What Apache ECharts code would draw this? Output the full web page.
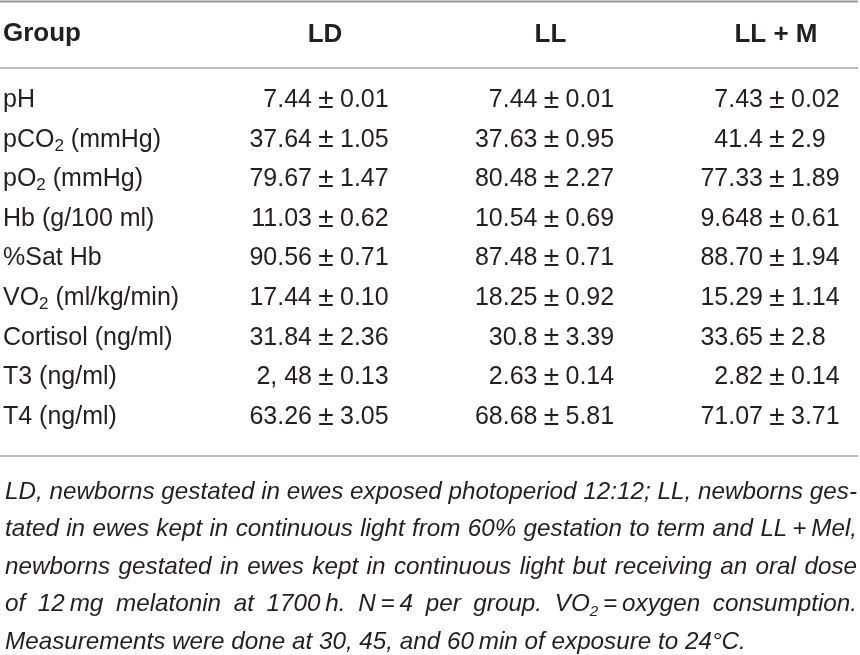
<!DOCTYPE html>
<html lang="en">
<head>
    <meta charset="UTF-8">
    <title>Blood gases and hormones by group</title>
    <script src="https://cdn.jsdelivr.net/npm/echarts@6.0.0/dist/echarts.min.js"></script>
    <style>
        body { margin: 0; padding: 0; background: #fff; }
        #table { width: 860px; height: 655px; }
    </style>
</head>
<body>
    <div id="table"></div>
    <script>
        // table content
        const groups = ['LD', 'LL', 'LL + M'];
        const rowLabels = ['pH', 'pCO{sub|2} (mmHg)', 'pO{sub|2} (mmHg)', 'Hb (g/100 ml)', '%Sat Hb',
            'VO{sub|2} (ml/kg/min)', 'Cortisol (ng/ml)', 'T3 (ng/ml)', 'T4 (ng/ml)'];
        const ldMean = ['7.44', '37.64', '79.67', '11.03', '90.56', '17.44', '31.84', '2, 48', '63.26'];
        const ldSd = ['0.01', '1.05', '1.47', '0.62', '0.71', '0.10', '2.36', '0.13', '3.05'];
        const llMean = ['7.44', '37.63', '80.48', '10.54', '87.48', '18.25', '30.8', '2.63', '68.68'];
        const llSd = ['0.01', '0.95', '2.27', '0.69', '0.71', '0.92', '3.39', '0.14', '5.81'];
        const llmMean = ['7.43', '41.4', '77.33', '9.648', '88.70', '15.29', '33.65', '2.82', '71.07'];
        const llmSd = ['0.02', '2.9', '1.89', '0.61', '1.94', '1.14', '2.8', '0.14', '3.71'];
        const footnote = [
            'LD, newborns gestated in ewes exposed photoperiod 12:12; LL, newborns ges-',
            'tated in ewes kept in continuous light from 60% gestation to term and LL\u2009+\u2009Mel,',
            'newborns gestated in ewes kept in continuous light but receiving an oral dose',
            'of 12\u2009mg melatonin at 1700\u2009h. N\u2009=\u20094 per group. VO{sub|2}\u2009=\u2009oxygen consumption.',
            'Measurements were done at 30, 45, and 60\u2009min of exposure to 24°C.'
        ];

        const means = [ldMean, llMean, llmMean];
        const sds = [ldSd, llSd, llmSd];

        const textColor = '#231f20';
        const bodyFont = 'Liberation Sans';
        const bodySize = 25;

        const cells = [];
        groups.forEach(function (g, gi) {
            rowLabels.forEach(function (r, ri) {
                cells.push([gi, ri]);
            });
        });

        function rule(y, color, w) {
            return {
                type: 'line',
                shape: { x1: 0, y1: y, x2: 858, y2: y },
                style: { stroke: color, lineWidth: w }
            };
        }

        // footnote: justified lines of italic text
        const fnSize = 24, fnSub = 15, fnScale = 1.01;
        const fnLeft = 5, fnWidth = 852, fnTop = 492, fnLead = 37.5;
        const ctx = document.createElement('canvas').getContext('2d');
        function wordWidth(w) {
            let total = 0;
            w.split(/(\{sub\|[^}]*\})/).forEach(function (part) {
                if (!part) return;
                const m = part.match(/^\{sub\|([^}]*)\}$/);
                ctx.font = 'italic ' + (m ? fnSub : fnSize) + 'px "Liberation Sans"';
                total += ctx.measureText(m ? m[1] : part).width;
            });
            return total;
        }
        ctx.font = 'italic ' + fnSize + 'px "Liberation Sans"';
        const spaceW = ctx.measureText(' ').width;
        const fnWords = [];
        footnote.forEach(function (line, li) {
            const words = line.split(' ');
            const widths = words.map(wordWidth);
            const sum = widths.reduce(function (a, b) { return a + b; }, 0);
            const last = li === footnote.length - 1;
            const gap = last ? spaceW : (fnWidth / fnScale - sum) / (words.length - 1);
            let x = 0;
            words.forEach(function (w, wi) {
                fnWords.push({
                    type: 'text',
                    x: x,
                    y: li * fnLead,
                    style: {
                        text: w,
                        fontFamily: bodyFont,
                        fontStyle: 'italic',
                        fontSize: fnSize,
                        fill: textColor,
                        verticalAlign: 'middle',
                        rich: {
                            sub: { fontFamily: bodyFont, fontStyle: 'italic', fontSize: fnSub, padding: [14, 0, 0, 0], fill: textColor }
                        }
                    }
                });
                x += widths[wi] + gap;
            });
        });

        const chart = echarts.init(document.getElementById('table'));

        chart.setOption({
            backgroundColor: '#fff',
            animation: false,
            title: {
                text: 'Group',
                left: 3,
                top: 19,
                padding: 0,
                textStyle: { fontFamily: bodyFont, fontSize: 26, fontWeight: 'bold', color: textColor, lineHeight: 30 }
            },
            grid: {
                left: 325,
                right: 84,
                top: 100,
                bottom: 238,
                containLabel: false,
                outerBoundsMode: 'none'
            },
            xAxis: {
                type: 'category',
                data: groups,
                position: 'top',
                boundaryGap: false,
                axisLine: { show: false },
                axisTick: { show: false },
                splitLine: { show: false },
                axisLabel: {
                    interval: 0,
                    margin: 52,
                    fontFamily: bodyFont,
                    fontSize: 26,
                    fontWeight: 'bold',
                    color: textColor
                }
            },
            yAxis: {
                type: 'category',
                data: rowLabels,
                inverse: true,
                boundaryGap: false,
                axisLine: { show: false },
                axisTick: { show: false },
                splitLine: { show: false },
                axisLabel: {
                    interval: 0,
                    align: 'left',
                    margin: 322,
                    color: textColor,
                    fontFamily: bodyFont,
                    fontSize: bodySize,
                    lineHeight: 30,
                    rich: {
                        sub: { fontSize: 17, lineHeight: 17, verticalAlign: 'bottom', fontFamily: bodyFont, color: textColor }
                    }
                }
            },
            series: [{
                type: 'custom',
                coordinateSystem: 'cartesian2d',
                data: cells,
                encode: { x: 0, y: 1 },
                renderItem: function (params, api) {
                    const gi = api.value(0);
                    const ri = api.value(1);
                    const p = api.coord([gi, ri]);
                    const font = { fontFamily: bodyFont, fontSize: bodySize, fill: textColor, verticalAlign: 'middle' };
                    return {
                        type: 'group',
                        children: [
                            { type: 'text', x: p[0] - 13, y: p[1], style: Object.assign({ text: means[gi][ri], align: 'right' }, font) },
                            { type: 'text', x: p[0] + 1, y: p[1], style: Object.assign({ text: '±', align: 'center' }, font, { fontSize: 28 }) },
                            { type: 'text', x: p[0] + 15, y: p[1], style: Object.assign({ text: sds[gi][ri], align: 'left' }, font) }
                        ]
                    };
                }
            }],
            graphic: [
                rule(1.5, '#9a9a9a', 2),
                rule(68, '#bdbdbd', 2),
                rule(456, '#a8a8a8', 1.5),
                {
                    type: 'group',
                    x: fnLeft,
                    y: fnTop,
                    scaleX: fnScale,
                    children: fnWords
                }
            ]
        });
    </script>
</body>
</html>
